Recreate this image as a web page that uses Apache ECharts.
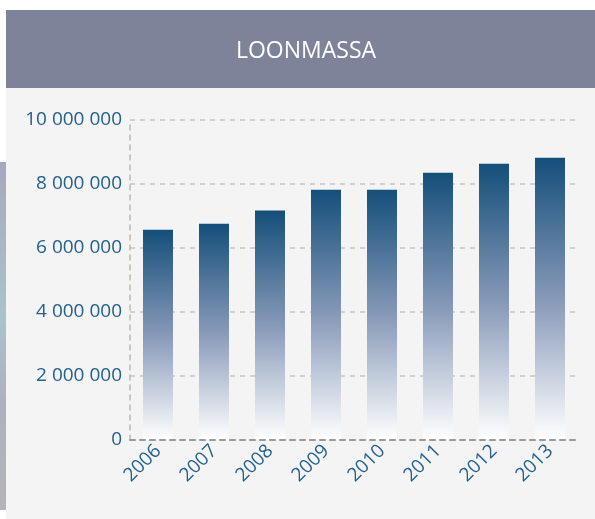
<!DOCTYPE html>
<html>
<head>
<meta charset="utf-8">
<script src="https://cdn.jsdelivr.net/npm/echarts@6/dist/echarts.min.js"></script>
<style>
  html, body { margin: 0; padding: 0; background: #fff; }
  #chart { width: 595px; height: 519px; }
</style>
</head>
<body>
<div id="chart"></div>
<script>
// jaren en loonmassa (euro)
const years = ['2006', '2007', '2008', '2009', '2010', '2011', '2012', '2013'];
const loonmassa = [6570000, 6760000, 7170000, 7820000, 7820000, 8350000, 8630000, 8820000];
const yTicks = { min: 0, max: 10000000, step: 2000000 };

const labelColor = '#24608c';
const fontFamily = '"Open Sans", "Noto Sans", sans-serif';

function spaced(v) {
    // 10000000 -> "10 000 000"
    return String(v).replace(/\B(?=(\d{3})+(?!\d))/g, ' ');
}

const chart = echarts.init(document.getElementById('chart'));

const option = {
    animation: false,
    textStyle: { fontFamily: fontFamily },
    graphic: [
        // strookje links (stuk van een foto)
        {
            type: 'rect', z: -10,
            shape: { x: 0, y: 162, width: 6, height: 348 },
            style: {
                fill: new echarts.graphic.LinearGradient(0, 0, 0, 1, [
                    { offset: 0, color: '#a7a8be' },
                    { offset: 0.45, color: '#a9c3cc' },
                    { offset: 0.7, color: '#aeb0bd' },
                    { offset: 1, color: '#b4b4b8' }
                ])
            }
        },
        // kop
        {
            type: 'rect', z: -10,
            shape: { x: 6, y: 10, width: 589, height: 78 },
            style: { fill: '#7f8399' }
        },
        // paneel
        {
            type: 'rect', z: -10,
            shape: { x: 6, y: 88, width: 589, height: 431 },
            style: { fill: '#f4f4f4' }
        }
    ],
    title: {
        text: 'LOONMASSA',
        left: 301,
        top: 35,
        textAlign: 'center',
        textStyle: { color: '#ffffff', fontSize: 23, fontWeight: 'normal', fontFamily: fontFamily }
    },
    grid: {
        left: 130,
        top: 120,
        right: 17,
        bottom: 79,
        containLabel: false,
        outerBoundsMode: 'none'
    },
    xAxis: {
        type: 'category',
        data: years,
        axisLine: { show: true, lineStyle: { color: '#999999', type: [5, 5], width: 2 } },
        axisTick: { show: false },
        axisLabel: { color: labelColor, fontSize: 19, rotate: 45, margin: 8, fontFamily: fontFamily },
        z: 5
    },
    yAxis: {
        type: 'value',
        min: yTicks.min,
        max: yTicks.max,
        interval: yTicks.step,
        axisLine: { show: true, lineStyle: { color: '#b8b8b8', type: [5, 5], width: 1.5 } },
        axisTick: { show: false },
        axisLabel: {
            color: labelColor, fontSize: 19, margin: 8, fontFamily: fontFamily,
            formatter: v => spaced(v)
        },
        splitLine: { show: true, lineStyle: { color: '#c4c4c4', type: [5, 5], width: 1.5 } }
    },
    series: [
        {
            type: 'bar',
            data: loonmassa,
            barWidth: 30,
            itemStyle: {
                color: new echarts.graphic.LinearGradient(0, 0, 0, 1, [
                    { offset: 0, color: '#144f7a' },
                    { offset: 0.5, color: '#8699b8' },
                    { offset: 1, color: '#ffffff' }
                ])
            }
        }
    ]
};

chart.setOption(option);
</script>
</body>
</html>
